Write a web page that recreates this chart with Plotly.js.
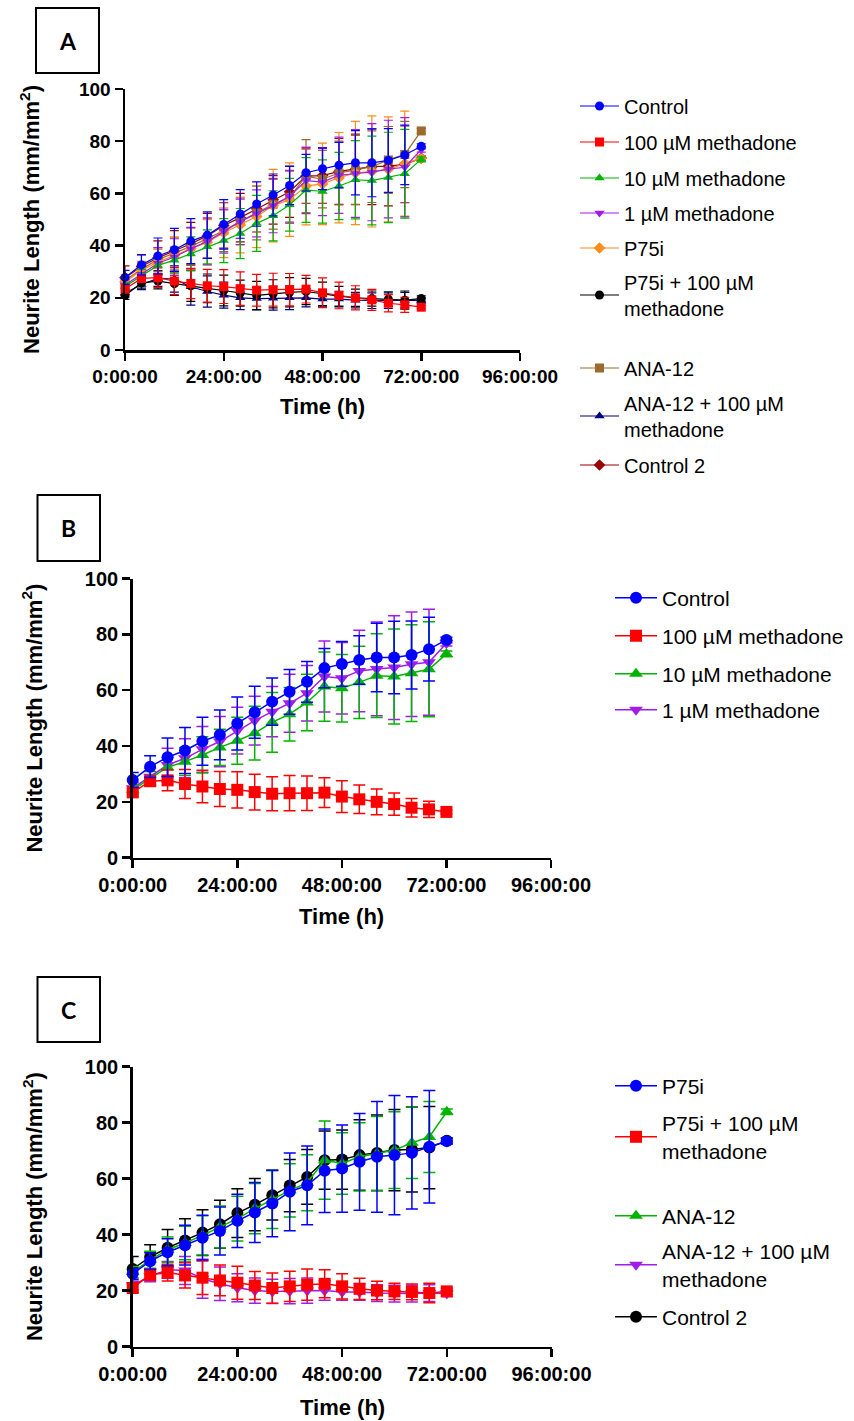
<!DOCTYPE html>
<html><head><meta charset="utf-8">
<script src="https://cdn.plot.ly/plotly-3.0.1.min.js"></script>
<style>html,body{margin:0;padding:0;background:#fff}#chart{width:854px;height:1421px}</style>
</head><body><div id="chart"></div>
<script>
// ---------------- data ----------------
const timeH = [0,4,8,12,16,20,24,28,32,36,40,44,48,52,56,60,64,68,72];
const xTickVals = [0,24,48,72,96];
const xTickText = ['0:00:00','24:00:00','48:00:00','72:00:00','96:00:00'];
const yTickVals = [0,20,40,60,80,100];

const controlMean = [27.8,32.6,36.0,38.4,41.7,44.0,48.1,52.1,55.9,59.4,63.0,67.9,69.4,70.8,71.7,71.7,72.6,74.7,78.0];
const controlSD   = [2.7,3.9,6.9,8.2,8.6,8.9,9.5,9.3,8.5,8.0,7.3,7.0,8.0,8.7,12.3,13.0,12.2,11.4,1.0];
const m100Mean    = [23.4,27.4,27.7,26.4,25.5,24.6,24.3,23.5,22.9,23.1,23.1,23.3,21.9,20.9,20.0,19.2,17.9,17.3,16.4];
const m100SD      = [1.5,1.5,3.7,5.2,5.8,6.3,6.5,6.4,6.1,6.3,6.2,5.3,5.7,5.1,4.6,4.0,3.3,2.9,0.6];
const m10Mean     = [24.3,28.4,32.4,34.4,36.8,39.5,41.9,44.6,48.5,51.4,55.6,61.3,60.7,62.8,65.2,64.9,66.1,67.5,73.0];
const m10SD       = [1.5,2.5,3.5,5.0,6.5,6.5,8.4,9.6,10.7,9.6,10.1,12.4,12.1,12.9,15.0,17.0,17.3,17.0,1.0];
const m1Mean      = [24.9,29.0,33.2,35.6,38.8,41.6,45.5,49.1,52.3,55.3,58.9,64.9,64.3,66.9,67.6,68.1,69.3,70.0,76.8];
const m1SD        = [2.0,3.0,6.0,7.0,8.2,9.0,8.4,8.7,9.0,10.4,9.9,12.7,12.8,14.6,16.8,18.6,18.7,19.0,1.0];
const p75iMean    = [26.0,30.5,33.7,36.2,38.9,41.3,44.9,47.9,51.1,55.3,57.6,62.8,63.6,66.0,67.8,68.4,69.2,71.4,73.4];
const p75iSD      = [2.0,3.0,4.8,7.1,8.0,8.6,9.5,10.7,11.9,13.9,14.1,14.9,15.6,17.3,19.8,21.3,20.1,20.1,1.0];
const p75iM100Mean= [20.9,25.7,26.4,25.4,24.6,23.6,22.8,21.8,20.9,21.5,22.1,22.4,21.5,20.6,20.0,19.7,19.5,19.1,19.7];
const p75iM100SD  = [1.5,2.0,3.0,4.5,6.0,5.5,5.9,5.0,5.4,5.4,5.6,5.0,4.5,3.8,3.3,2.9,2.8,3.5,1.0];
const anaMean     = [26.6,31.0,34.6,37.0,39.7,42.7,45.7,49.3,52.5,55.8,58.5,66.6,65.4,67.8,69.0,70.2,72.8,74.9,83.9];
const anaSD       = [2.0,3.0,4.5,6.0,7.0,7.5,8.0,9.0,10.3,9.5,10.0,14.0,11.0,12.2,13.2,13.7,12.8,12.7,1.0];
const anaM100Mean = [21.8,25.1,27.4,27.2,24.2,22.4,21.0,20.0,19.7,19.8,20.0,20.0,19.5,19.5,19.1,18.9,18.9,19.1,18.9];
const anaM100SD   = [1.5,2.0,3.0,5.0,7.0,6.0,5.0,4.5,4.3,4.5,4.5,3.5,3.0,3.0,3.0,3.0,3.0,3.0,1.0];
const control2Mean= [27.7,32.0,35.3,37.9,40.7,43.7,47.7,50.7,54.1,57.5,60.6,66.6,66.8,68.4,69.2,70.2,70.4,71.1,73.5];
const control2SD  = [4.5,4.4,6.5,7.8,8.2,8.6,8.7,9.3,8.9,9.3,9.8,10.4,10.6,12.6,13.5,14.5,15.2,14.7,1.0];

const nControl = 'Control';
const nM100 = '100 µM methadone';
const nM10 = '10 µM methadone';
const nM1 = '1 µM methadone';
const nP75i = 'P75i';
const nP75iM = 'P75i + 100 µM<br>methadone';
const nAna = 'ANA-12';
const nAnaM = 'ANA-12 + 100 µM<br>methadone';
const nControl2 = 'Control 2';
const panelLetters = ['A','B','C'];
const yTitle = 'Neurite Length (mm/mm<sup>2</sup>)';
const xTitle = 'Time (h)';

// ---------------- layout helpers ----------------
const W = 854, H = 1421;
const fx = p => p / W;
const fy = p => 1 - p / H;
const FONT = 'Liberation Sans, Arial, sans-serif';

// panel geometry in px: [x0, x96, yTop(100), yBottom(0), yTitleX, xTitleY]
const geo = {
  A: [125, 520, 88.9, 350, 30.5, 407],
  B: [132.7, 551, 578.5, 857.7, 32.5, 916],
  C: [132.7, 551.5, 1066.7, 1346.5, 32.5, 1407]
};

const traces = [];
const legends = {};
let legendCount = 0;

function addSeries(mean, sd, name, color, symbol, axSuffix, style, legendPos) {
  legendCount++;
  const lid = legendCount === 1 ? 'legend' : 'legend' + legendCount;
  legends[lid] = {
    x: fx(legendPos[0]), y: fy(legendPos[1]), xanchor: 'left', yanchor: 'middle',
    bgcolor: 'rgba(0,0,0,0)', borderwidth: 0, itemwidth: style.itemwidth,
    font: {family: FONT, size: style.legendFont, color: '#000'},
    itemsizing: 'trace', valign: 'middle'
  };
  traces.push({
    type: 'scatter', mode: 'lines+markers', x: timeH, y: mean, name: name,
    xaxis: 'x' + axSuffix, yaxis: 'y' + axSuffix, legend: lid, cliponaxis: false,
    line: {color: color, width: style.lw},
    marker: {color: color, symbol: symbol, size: style.ms},
    error_y: {type: 'data', array: sd, visible: true, color: color, thickness: style.et, width: style.ew}
  });
}

const styleA = {lw: 1.2, ms: 9, et: 1.2, ew: 4.5, legendFont: 20, itemwidth: 39};
const styleBC = {lw: 1.5, ms: 12, et: 1.5, ew: 6, legendFont: 21, itemwidth: 42};

const aDefs = [
  [controlMean, controlSD, nControl, '#0000FF', 'circle', 106],
  [m100Mean, m100SD, nM100, '#FF0000', 'square', 142],
  [m10Mean, m10SD, nM10, '#00B400', 'triangle-up', 178],
  [m1Mean, m1SD, nM1, '#A21CE8', 'triangle-down', 213],
  [p75iMean, p75iSD, nP75i, '#FF8C1A', 'diamond', 248],
  [p75iM100Mean, p75iM100SD, nP75iM, '#000000', 'circle', 295],
  [anaMean, anaSD, nAna, '#9C6A2C', 'square', 368],
  [anaM100Mean, anaM100SD, nAnaM, '#00007F', 'triangle-up', 416],
  [control2Mean, control2SD, nControl2, '#9B0000', 'diamond', 465]
];
const bDefs = [
  [controlMean, controlSD, nControl, '#0000FF', 'circle', 598],
  [m100Mean, m100SD, nM100, '#FF0000', 'square', 636],
  [m10Mean, m10SD, nM10, '#00B400', 'triangle-up', 674],
  [m1Mean, m1SD, nM1, '#A21CE8', 'triangle-down', 710]
];
const cDefs = [
  [p75iMean, p75iSD, nP75i, '#0000FF', 'circle', 1086],
  [p75iM100Mean, p75iM100SD, nP75iM, '#FF0000', 'square', 1137],
  [anaMean, anaSD, nAna, '#00B400', 'triangle-up', 1216],
  [anaM100Mean, anaM100SD, nAnaM, '#A21CE8', 'triangle-down', 1265],
  [control2Mean, control2SD, nControl2, '#000000', 'circle', 1317]
];
// draw later-listed series first so the first-listed series sits on top
aDefs.slice().reverse().forEach(d => addSeries(d[0], d[1], d[2], d[3], d[4], '', styleA, [575, d[5]]));
bDefs.slice().reverse().forEach(d => addSeries(d[0], d[1], d[2], d[3], d[4], '2', styleBC, [610, d[5]]));
cDefs.slice().reverse().forEach(d => addSeries(d[0], d[1], d[2], d[3], d[4], '3', styleBC, [610, d[5]]));

function xAxis(g, anchor, fs) {
  return {
    domain: [fx(g[0]), fx(g[1])], anchor: anchor, range: [0, 96],
    tickmode: 'array', tickvals: xTickVals, ticktext: xTickText,
    showline: true, linewidth: 2.5, linecolor: '#000', ticks: 'outside', ticklen: 8, tickwidth: 2.5, tickcolor: '#000',
    showgrid: false, zeroline: false,
    tickfont: {family: FONT, size: fs, color: '#000', weight: 'bold'}
  };
}
function yAxis(g, anchor, fs) {
  return {
    domain: [fy(g[3]), fy(g[2])], anchor: anchor, range: [0, 100],
    tickmode: 'array', tickvals: yTickVals,
    showline: true, linewidth: 2.5, linecolor: '#000', ticks: 'outside', ticklen: 8, tickwidth: 2.5, tickcolor: '#000',
    showgrid: false, zeroline: false,
    tickfont: {family: FONT, size: fs, color: '#000', weight: 'bold'}
  };
}

const boxes = [[36, 99, 8, 73], [37.5, 100, 495, 561], [37.5, 100, 977, 1042]];
const shapes = boxes.map(b => ({
  type: 'rect', xref: 'paper', yref: 'paper', x0: fx(b[0]), x1: fx(b[1]), y0: fy(b[3]), y1: fy(b[2]),
  line: {color: '#000', width: 2}, fillcolor: 'rgba(0,0,0,0)'
}));
const annotations = boxes.map((b, i) => ({
  xref: 'paper', yref: 'paper', x: fx((b[0] + b[1]) / 2), y: fy((b[2] + b[3]) / 2),
  xanchor: 'center', yanchor: 'middle', showarrow: false, text: panelLetters[i],
  font: {family: 'Lato, Open Sans, sans-serif', size: 23, color: '#000', weight: 'bold'}
}));
const titleFont = {family: FONT, size: 22, color: '#000', weight: 'bold'};
[geo.A, geo.B, geo.C].forEach(g => {
  annotations.push({
    xref: 'paper', yref: 'paper', x: fx(g[4]), y: fy((g[2] + g[3]) / 2),
    xanchor: 'center', yanchor: 'middle', showarrow: false, textangle: -90,
    text: yTitle, font: titleFont
  });
  annotations.push({
    xref: 'paper', yref: 'paper', x: fx((g[0] + g[1]) / 2), y: fy(g[5]),
    xanchor: 'center', yanchor: 'middle', showarrow: false,
    text: xTitle, font: titleFont
  });
});

const layout = Object.assign({
  width: W, height: H, margin: {l: 0, r: 0, t: 0, b: 0},
  paper_bgcolor: '#fff', plot_bgcolor: 'rgba(0,0,0,0)', showlegend: true,
  xaxis: xAxis(geo.A, 'y', 19), yaxis: yAxis(geo.A, 'x', 19),
  xaxis2: xAxis(geo.B, 'y2', 20), yaxis2: yAxis(geo.B, 'x2', 20),
  xaxis3: xAxis(geo.C, 'y3', 20), yaxis3: yAxis(geo.C, 'x3', 20),
  shapes: shapes, annotations: annotations
}, legends);

Plotly.newPlot('chart', traces, layout, {displayModeBar: false, staticPlot: true});
</script>
</body></html>
